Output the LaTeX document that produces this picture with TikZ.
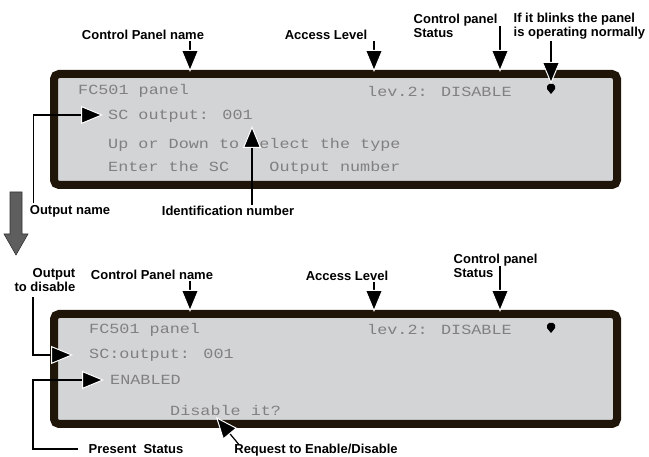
\documentclass[tikz,border=0pt]{standalone}
\usepackage{fontspec}
\setsansfont{Liberation Sans}
\newfontfamily\lcdfont[FakeStretch=1.2]{Liberation Mono}
\usepackage{tikz}
\usetikzlibrary{arrows.meta}
\usepackage{xcolor}
\definecolor{lcdback}{HTML}{D3D4D6}
\definecolor{lcdframe}{HTML}{1F1609}
\definecolor{lcdtext}{HTML}{808080}
\definecolor{bigarrow}{HTML}{5E5E5E}

\tikzset{
  lcd/.style={anchor=west,inner sep=0pt,text=lcdtext,font=\lcdfont\fontsize{14}{14}\selectfont},
  callout/.style={inner sep=1.5pt,font=\sffamily\bfseries\fontsize{13}{14.5}\selectfont},
  panel/.style={fill=lcdback,draw=lcdframe,line width=8pt,rounded corners=5pt},
  pointer/.style={line width=1.2pt,-{Triangle[length=22pt,width=18pt,color=white,fill=black,line width=1pt]}}
}

\begin{document}
\begin{tikzpicture}[x=1pt,y=-1pt]
\useasboundingbox (0,0) rectangle (649,457);

% first screen
\draw[panel] (54,74) rectangle (617,185);
\node[lcd] (fcname1) at (78,91) {FC501 panel};
\node[lcd] (level1) at (367,91) {lev.2: DISABLE};
\node[lcd] (scout1) at (108,116) {SC output: 001};
\node[lcd] (hint1) at (108,145) {Up or Down to select the type};
\node[lcd] (hint2) at (108,168) {Enter the SC\ \ \ \ Output number};
\fill (547,86) -- (549,84) -- (553,84) -- (555,86) -- (555,89) -- (551,94) -- (547,89) -- cycle;

\node[callout] (cpname1) at (143,35) {Control Panel name};
\node[callout] (access1) at (326,35) {Access Level};
\node[callout,align=left,anchor=west] (status1) at (412,26) {Control panel\\Status};
\node[callout,align=left,anchor=west] (blink) at (512,26) {If it blinks the panel\\is operating normally};
\node[callout] (outname) at (70,211) {Output name};
\node[callout] (ident) at (228,211) {Identification number};

\coordinate (t1) at (190,72);
\coordinate (t2) at (374,72);
\coordinate (t3) at (500,72);
\coordinate (t4) at (551,84);
\coordinate (t5) at (103,115);
\coordinate (t6) at (252,126);
\draw[pointer] (t1 |- cpname1.south) -- (t1);
\draw[pointer] (t2 |- access1.south) -- (t2);
\draw[pointer] (t3 |- status1.east) -- (t3);
\draw[pointer] (t4 |- blink.south) -- (t4);
\draw[pointer] ([xshift=5pt]outname.north west) |- (t5);
\draw[pointer] (t6 |- ident.north) -- (t6);

% step arrow
\filldraw[fill=bigarrow,draw=black!80,line width=0.6pt]
  (10,192) -- (22,192) -- (22,234) -- (28,234) -- (16,255) -- (4,234) -- (10,234) -- cycle;

% second screen
\draw[panel] (54,314) rectangle (617,424);
\node[lcd] (fcname2) at (89,330) {FC501 panel};
\node[lcd] (level2) at (367,329) {lev.2: DISABLE};
\node[lcd] (scout2) at (89,355) {SC:output: 001};
\node[lcd] (state2) at (110,380) {ENABLED};
\node[lcd] (ask2) at (170,410) {Disable it?};
\fill (547,325) -- (549,323) -- (553,323) -- (555,325) -- (555,328) -- (551,333) -- (547,328) -- cycle;

\node[callout,align=right,anchor=east] (outdis) at (77,280) {Output\\to disable};
\node[callout] (cpname2) at (152,275) {Control Panel name};
\node[callout] (access2) at (347,276) {Access Level};
\node[callout,align=left,anchor=west] (status2) at (452,266) {Control panel\\Status};
\node[callout] (present) at (136,449) {Present\ \ Status};
\node[callout] (request) at (316,450) {Request to Enable/Disable};

\coordinate (b1) at (190,312);
\coordinate (b2) at (374,312);
\coordinate (b3) at (500,312);
\coordinate (b4) at (73,355);
\coordinate (b5) at (104,380);
\coordinate (b6) at (216,417);
\draw[pointer] (b1 |- cpname2.south) -- (b1);
\draw[pointer] (b2 |- access2.south) -- (b2);
\draw[pointer] (b3 |- status2.east) -- (b3);
\draw[pointer] (33,297) |- (b4);
\draw[pointer] ([xshift=-9pt]present.west) -| (33,380) -- (b5);
\draw[pointer] ([xshift=6pt,yshift=-2pt]request.north west) -- (b6);
\end{tikzpicture}
\end{document}
